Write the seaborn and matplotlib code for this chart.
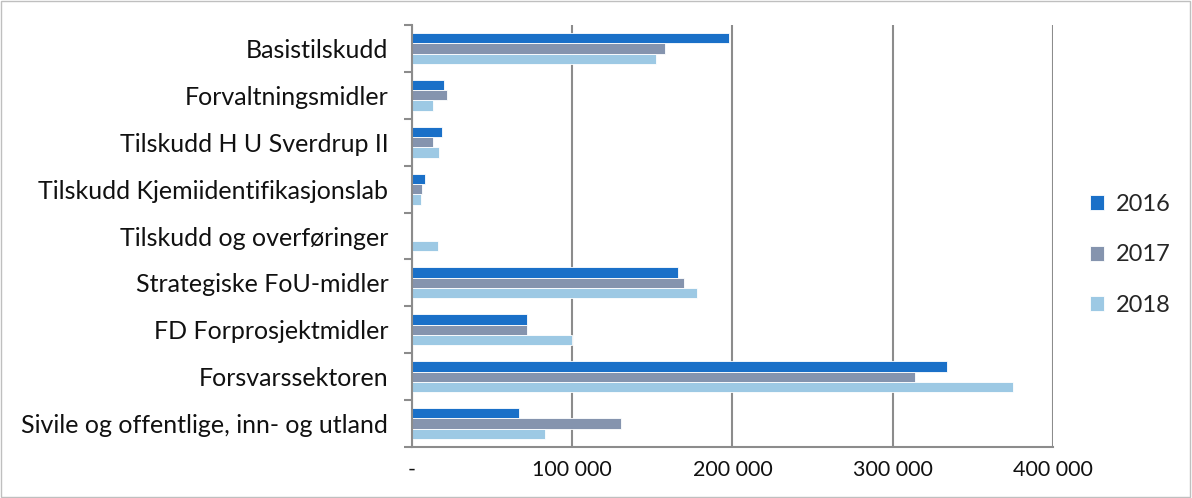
import pandas as pd
import numpy as np
import matplotlib.pyplot as plt
import seaborn as sns
from matplotlib.patches import Rectangle

# Category names and values
categories = ['Basistilskudd', 'Forvaltningsmidler', 'Tilskudd H U Sverdrup II',
              'Tilskudd Kjemiidentifikasjonslab', 'Tilskudd og overføringer',
              'Strategiske FoU-midler', 'FD Forprosjektmidler', 'Forsvarssektoren',
              'Sivile og offentlige, inn- og utland']
years = ['2016', '2017', '2018']
values_2016 = [198000, 20000, 19000, 8000, 0, 166000, 72000, 334000, 67000]
values_2017 = [158000, 22000, 13000, 6500, 0, 170000, 72000, 314000, 130500]
values_2018 = [152000, 13000, 17000, 5500, 16000, 178000, 100000, 375000, 83000]
x_ticks = [0, 100000, 200000, 300000, 400000]
x_labels = ['-', '100 000', '200 000', '300 000', '400 000']

df = pd.DataFrame({
    'category': categories * 3,
    'year': ['2016'] * 9 + ['2017'] * 9 + ['2018'] * 9,
    'value': values_2016 + values_2017 + values_2018,
})

palette = {'2016': '#1a70c8', '2017': '#8594ae', '2018': '#9dc9e4'}

sns.set_style('white')
plt.rcParams['font.family'] = ['Lato', 'DejaVu Sans']

fig = plt.figure(figsize=(11.92, 4.98), dpi=100)
ax = fig.add_axes([0.3456, 0.1024, 0.5378, 0.8474])

sns.barplot(data=df, y='category', x='value', hue='year', order=categories,
            hue_order=years, palette=palette, saturation=1, width=0.66, orient='y',
            edgecolor='white', linewidth=0.6, ax=ax, legend=True)

grid_col = '#8c8c8c'
ax.set_xlim(0, 400000)
ax.set_ylim(len(categories) - 0.5, -0.5)
ax.set_xticks(x_ticks)
ax.set_xticklabels(x_labels, fontsize=15.5, color='#111111')
ax.xaxis.grid(True, color=grid_col, linewidth=1.5)
ax.set_axisbelow(True)
ax.tick_params(axis='x', length=6, width=1.5, color=grid_col, pad=3)

# Excel-style category ticks at group boundaries, labels at centers
ax.set_yticks(np.arange(-0.5, len(categories), 1.0))
ax.set_yticklabels([])
ax.set_yticks(np.arange(len(categories)), minor=True)
ax.set_yticklabels(categories, minor=True, fontsize=18, color='#111111')
ax.tick_params(axis='y', which='major', length=6, width=1.5, color=grid_col, left=True)
ax.tick_params(axis='y', which='minor', length=0, pad=17)

for side in ['top', 'right']:
    ax.spines[side].set_visible(False)
for side in ['left', 'bottom']:
    ax.spines[side].set_color(grid_col)
    ax.spines[side].set_linewidth(1.5)

ax.set_xlabel('')
ax.set_ylabel('')

leg = ax.legend(loc='center left', bbox_to_anchor=(1.025, 0.455), frameon=False,
                fontsize=17, handlelength=0.6, handleheight=0.6,
                labelspacing=1.25, handletextpad=0.5)

fig.patches.append(Rectangle((0.001, 0.002), 0.997, 0.995, transform=fig.transFigure,
                             fill=False, edgecolor='#bfbfbf', linewidth=1))

plt.savefig('out.png', dpi=100)
